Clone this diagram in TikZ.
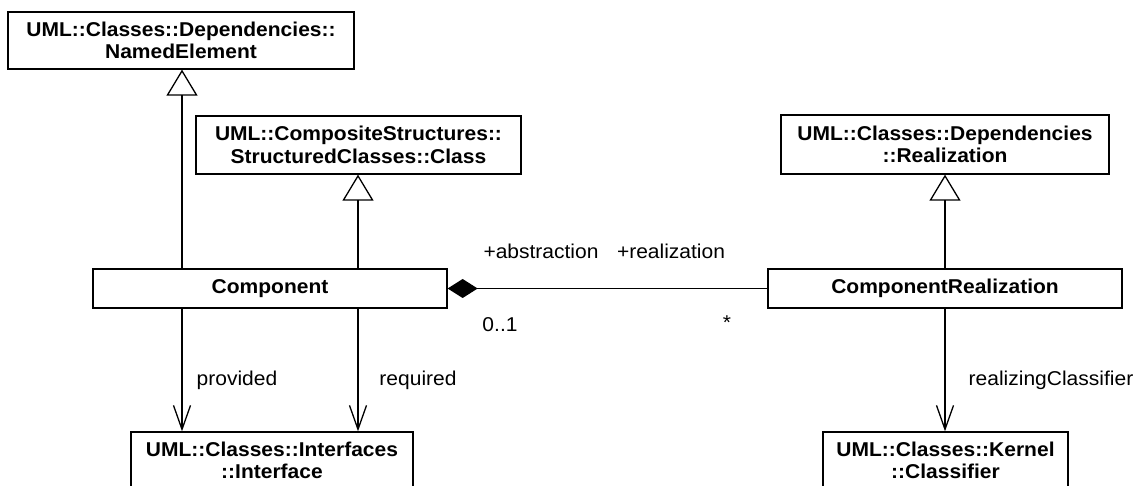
\documentclass[tikz,border=0pt]{standalone}
\usepackage{fontspec}
\setmainfont{Liberation Sans}[FakeStretch=1.05]
\usetikzlibrary{arrows.meta}
\begin{document}
\begin{tikzpicture}[x=1pt,y=-1pt,
  line width=1.3pt,
  every node/.style={font=\fontsize{20}{22.5}\selectfont, inner sep=0pt},
  umlclass/.style={draw, fill=white, align=center, font=\fontsize{20}{22.5}\selectfont\bfseries},
  gen/.style={-{Triangle[open,length=26pt,width=31pt]}},
  nav/.style={-{Straight Barb[length=24pt,width=17pt]}},
  comp/.style={-{Diamond[length=30pt,width=19pt]}},
  lbl/.style={font=\fontsize{20}{22.5}\selectfont}]
\useasboundingbox (0,0) rectangle (1143,486);
\clip (0,0) rectangle (1143,486);
\fill[white] (0,0) rectangle (1143,486);

% classes
\node[umlclass, minimum width=346pt, minimum height=57pt] (ne) at (181,40.5)
  {UML::Classes::Dependencies::\\NamedElement};
\node[umlclass, minimum width=325pt, minimum height=58pt] (cls) at (358.5,145)
  {UML::CompositeStructures::\\StructuredClasses::Class};
\node[umlclass, minimum width=328pt, minimum height=59pt] (rea) at (945,144.5)
  {UML::Classes::Dependencies\\::Realization};
\node[umlclass, minimum width=354pt, minimum height=39pt] (cmp) at (270,288.5)
  {Component};
\node[umlclass, minimum width=354pt, minimum height=39pt] (cr) at (945,288.5)
  {ComponentRealization};
\node[umlclass, minimum width=282pt, minimum height=57pt] (itf) at (272,460.5)
  {UML::Classes::Interfaces\\::Interface};
\node[umlclass, minimum width=245pt, minimum height=57pt] (clf) at (945.5,460.5)
  {UML::Classes::Kernel\\::Classifier};

% vertical guide positions
\coordinate (xa) at (182,0);
\coordinate (xb) at (358,0);
\coordinate (xc) at (945,0);

% generalizations
\draw[gen] (cmp.north -| xa) -- (ne.south -| xa);
\draw[gen] (cmp.north -| xb) -- (cls.south -| xb);
\draw[gen] (cr.north -| xc) -- (rea.south -| xc);

% composition
\draw[comp] (cr.west) -- (cmp.east);

% navigable associations
\draw[nav] (cmp.south -| xa) -- (itf.north -| xa);
\draw[nav] (cmp.south -| xb) -- (itf.north -| xb);
\draw[nav] (cr.south -| xc) -- (clf.north -| xc);

% association end labels
\node[lbl] (l1) at (541,251) {+abstraction};
\node[lbl] (l2) at (671,251) {+realization};
\node[lbl] (l3) at (500,325) {0..1};
\node[lbl] (l4) at (727,323) {*};
\node[lbl] (l5) at (237,380) {provided};
\node[lbl] (l6) at (418,380) {required};
\node[lbl] (l7) at (1051,380) {realizingClassifier};
\end{tikzpicture}
\end{document}
